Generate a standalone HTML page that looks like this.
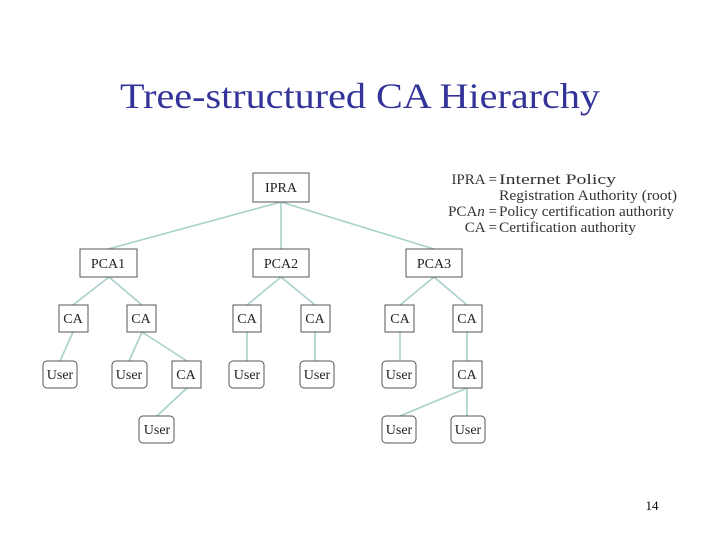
<!DOCTYPE html>
<html><head><style>body{margin:0;background:#fff}svg{display:block}</style></head><body>
<svg width="720" height="540" xmlns="http://www.w3.org/2000/svg" font-family="Liberation Serif, serif">
<text x="360" y="108" text-anchor="middle" font-size="36" fill="#333399" textLength="480" lengthAdjust="spacingAndGlyphs">Tree-structured CA Hierarchy</text>
<g stroke="#a8d0cc" stroke-width="1.6" fill="none">
<line x1="281" y1="202" x2="108" y2="249"/><line x1="281" y1="202" x2="281" y2="249"/><line x1="281" y1="202" x2="434" y2="249"/>
<line x1="109" y1="277" x2="73" y2="305"/><line x1="109" y1="277" x2="142" y2="305"/>
<line x1="73" y1="332" x2="60" y2="361"/><line x1="142" y1="332" x2="129" y2="361"/><line x1="142" y1="332" x2="187" y2="361"/>
<line x1="187" y1="388" x2="157" y2="416"/>
<line x1="281" y1="277" x2="247" y2="305"/><line x1="281" y1="277" x2="315" y2="305"/>
<line x1="247" y1="332" x2="247" y2="361"/><line x1="315" y1="332" x2="315" y2="361"/>
<line x1="434" y1="277" x2="400" y2="305"/><line x1="434" y1="277" x2="467" y2="305"/>
<line x1="400" y1="332" x2="400" y2="361"/><line x1="467" y1="332" x2="467" y2="361"/>
<line x1="467" y1="388" x2="400" y2="416"/><line x1="467" y1="388" x2="467" y2="416"/>
</g>
<g stroke="#555" stroke-width="1" fill="#fff">
<rect x="253" y="173" width="56" height="29"/>
<rect x="80" y="249" width="57" height="28"/><rect x="253" y="249" width="56" height="28"/><rect x="406" y="249" width="56" height="28"/>
<rect x="59" y="305" width="29" height="27"/><rect x="127" y="305" width="29" height="27"/><rect x="233" y="305" width="28" height="27"/><rect x="301" y="305" width="29" height="27"/><rect x="385" y="305" width="29" height="27"/><rect x="453" y="305" width="29" height="27"/>
<rect x="172" y="361" width="29" height="27"/><rect x="453" y="361" width="29" height="27"/>
<rect x="43" y="361" width="34" height="27" rx="4"/><rect x="112" y="361" width="35" height="27" rx="4"/><rect x="229" y="361" width="35" height="27" rx="4"/><rect x="300" y="361" width="34" height="27" rx="4"/><rect x="382" y="361" width="34" height="27" rx="4"/>
<rect x="139" y="416" width="35" height="27" rx="4"/><rect x="382" y="416" width="34" height="27" rx="4"/><rect x="451" y="416" width="34" height="27" rx="4"/>
</g>
<g font-size="14" fill="#222" text-anchor="middle">
<text x="281" y="192">IPRA</text>
<text x="108" y="268">PCA1</text><text x="281" y="268">PCA2</text><text x="434" y="268">PCA3</text>
<text x="73" y="323">CA</text><text x="141" y="323">CA</text><text x="247" y="323">CA</text><text x="315" y="323">CA</text><text x="400" y="323">CA</text><text x="467" y="323">CA</text>
<text x="186" y="379">CA</text><text x="467" y="379">CA</text>
<text x="60" y="379">User</text><text x="129" y="379">User</text><text x="247" y="379">User</text><text x="317" y="379">User</text><text x="399" y="379">User</text>
<text x="157" y="434">User</text><text x="399" y="434">User</text><text x="468" y="434">User</text>
</g>
<g font-size="15" fill="#333">
<text x="497" y="184" text-anchor="end">IPRA =</text><text x="499" y="184" textLength="117" lengthAdjust="spacingAndGlyphs">Internet Policy</text>
<text x="499" y="200" textLength="178" lengthAdjust="spacingAndGlyphs">Registration Authority (root)</text>
<text x="497" y="216" text-anchor="end">PCA<tspan font-style="italic">n</tspan> =</text><text x="499" y="216" textLength="175" lengthAdjust="spacingAndGlyphs">Policy certification authority</text>
<text x="497" y="232" text-anchor="end">CA =</text><text x="499" y="232" textLength="137" lengthAdjust="spacingAndGlyphs">Certification authority</text>
</g>
<text x="652" y="510" font-size="13" text-anchor="middle" fill="#000">14</text>
</svg>
</body></html>
